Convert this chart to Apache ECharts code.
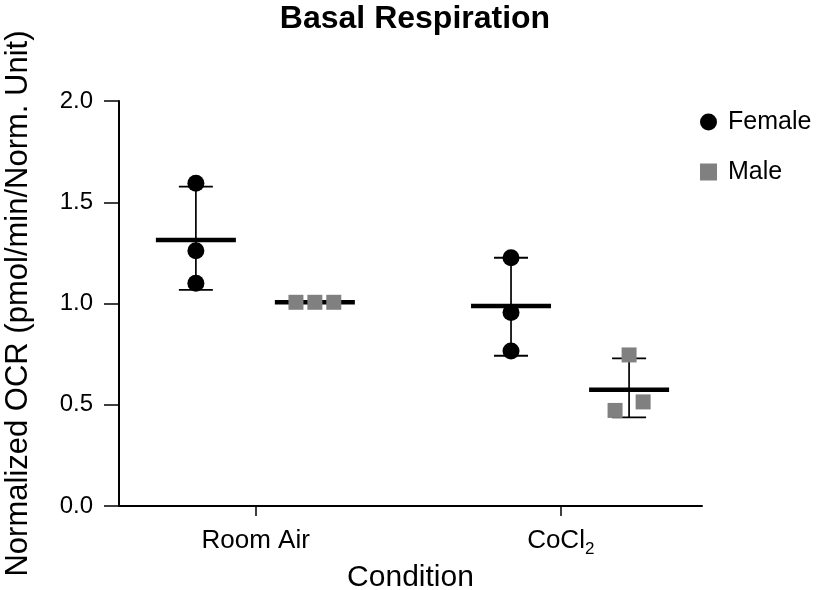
<!DOCTYPE html>
<html>
<head>
<meta charset="utf-8">
<script src="https://cdn.jsdelivr.net/npm/echarts@6/dist/echarts.min.js"></script>
<style>
  html, body { margin: 0; padding: 0; background: #fff; }
  #chart { width: 817px; height: 590px; }
</style>
</head>
<body>
<div id="chart"></div>
<script>
// ---- data ----
const categories = ['Room Air', 'CoCl2'];
const categoryPos = [1, 2];
const yTicks = [0, 0.5, 1.0, 1.5, 2.0];

const femaleX = [0.804, 0.804, 0.804, 1.837, 1.837, 1.837];
const femaleY = [1.594, 1.261, 1.100, 1.226, 0.956, 0.765];
const maleX = [1.132, 1.194, 1.256, 2.224, 2.178, 2.270];
const maleY = [1.006, 1.006, 1.006, 0.746, 0.472, 0.514];

const groupX = [0.804, 1.194, 1.837, 2.224];
const groupMean = [1.313, 1.006, 0.988, 0.574];
const groupLow = [1.067, 1.003, 0.742, 0.438];
const groupHigh = [1.577, 1.009, 1.226, 0.729];

// ---- chart ----
const FONT = 'Liberation Sans, Arial, Helvetica, sans-serif';
const chart = echarts.init(document.getElementById('chart'), null, { renderer: 'canvas' });

const femaleData = femaleX.map((x, i) => [x, femaleY[i]]);
const maleData = maleX.map((x, i) => [x, maleY[i]]);
const summaryData = groupX.map((x, i) => [x, groupMean[i], groupLow[i], groupHigh[i]]);

function renderSummary(params, api) {
  const x = api.value(0);
  const pm = api.coord([x, api.value(1)]);
  const pl = api.coord([x, api.value(2)]);
  const ph = api.coord([x, api.value(3)]);
  const capHalf = 17, meanHalf = 40;
  return {
    type: 'group',
    children: [
      { type: 'line', shape: { x1: pl[0], y1: pl[1], x2: ph[0], y2: ph[1] }, style: { stroke: '#000', lineWidth: 1.7 } },
      { type: 'line', shape: { x1: ph[0] - capHalf, y1: ph[1], x2: ph[0] + capHalf, y2: ph[1] }, style: { stroke: '#000', lineWidth: 1.8 } },
      { type: 'line', shape: { x1: pl[0] - capHalf, y1: pl[1], x2: pl[0] + capHalf, y2: pl[1] }, style: { stroke: '#000', lineWidth: 1.8 } },
      { type: 'line', shape: { x1: pm[0] - meanHalf, y1: pm[1], x2: pm[0] + meanHalf, y2: pm[1] }, style: { stroke: '#000', lineWidth: 4.5 } }
    ]
  };
}

const option = {
  animation: false,
  backgroundColor: '#fff',
  textStyle: { fontFamily: FONT, color: '#000' },
  graphic: [
    {
      type: 'text', x: 415, y: 19,
      style: {
        text: 'Basal Respiration', fill: '#000',
        font: 'bold 32px ' + FONT, textAlign: 'center', textVerticalAlign: 'middle'
      }
    }
  ],
  grid: { left: 119, right: 115, top: 101, bottom: 84, containLabel: false, outerBoundsMode: 'none' },
  legend: {
    orient: 'vertical', left: 700, top: 109, padding: 0,
    itemWidth: 17, itemHeight: 17, itemGap: 24,
    textStyle: { fontFamily: FONT, fontSize: 25, color: '#000', lineHeight: 26, padding: [0, 0, 0, 6] },
    data: [
      { name: 'Female', icon: 'circle' },
      { name: 'Male', icon: 'rect' }
    ]
  },
  xAxis: {
    type: 'value', min: 0.552, max: 2.463,
    name: 'Condition', nameLocation: 'middle', nameGap: 47,
    nameTextStyle: { fontFamily: FONT, fontSize: 30, color: '#000' },
    splitLine: { show: false },
    axisLine: { show: true, onZero: false, lineStyle: { color: '#000', width: 2 } },
    axisTick: { show: true, length: 10, lineStyle: { color: '#000', width: 1.5 }, customValues: categoryPos },
    axisLabel: {
      customValues: categoryPos, margin: 20, color: '#000', fontFamily: FONT, fontSize: 26,
      formatter: function (v) {
        const idx = categoryPos.indexOf(v);
        const name = categories[idx] || '';
        if (name === 'CoCl2') return '{a|CoCl}{sub|2}';
        return '{a|' + name + '}';
      },
      rich: {
        a: { fontSize: 26, fontFamily: FONT, color: '#000', lineHeight: 30 },
        sub: { fontSize: 17, fontFamily: FONT, color: '#000', lineHeight: 30, padding: [17, 0, 0, 0] }
      }
    }
  },
  yAxis: {
    type: 'value', min: 0, max: 2, interval: 0.5,
    name: 'Normalized OCR (pmol/min/Norm. Unit)', nameLocation: 'middle', nameGap: 85,
    nameTextStyle: { fontFamily: FONT, fontSize: 31, color: '#000' },
    splitLine: { show: false },
    axisLine: { show: true, lineStyle: { color: '#000', width: 2 } },
    axisTick: { show: true, length: 15, lineStyle: { color: '#000', width: 1.5 } },
    axisLabel: {
      margin: 26, color: '#000', fontFamily: FONT, fontSize: 24,
      formatter: function (v) { return yTicks.indexOf(v) >= 0 ? v.toFixed(1) : ''; }
    }
  },
  series: [
    {
      name: 'summary', type: 'custom', renderItem: renderSummary,
      data: summaryData, encode: { x: 0, y: 1 }, z: 1, silent: true
    },
    {
      name: 'Female', type: 'scatter', data: femaleData, symbol: 'circle', symbolSize: 17,
      itemStyle: { color: '#000', opacity: 1 }, z: 3
    },
    {
      name: 'Male', type: 'scatter', data: maleData, symbol: 'rect', symbolSize: 15,
      itemStyle: { color: '#808080', opacity: 1 }, z: 3
    }
  ]
};
chart.setOption(option);
</script>
</body>
</html>
